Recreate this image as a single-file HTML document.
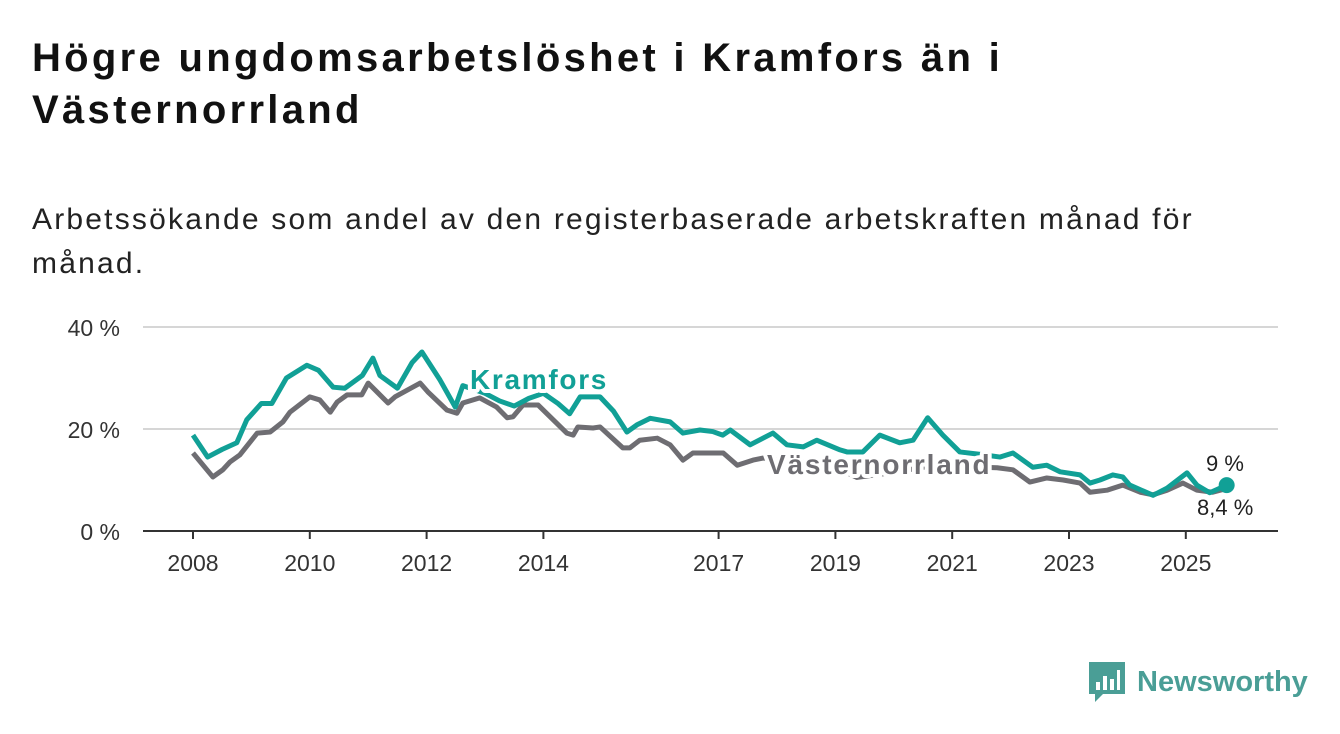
<!DOCTYPE html>
<html><head><meta charset="utf-8"><style>
body{margin:0;width:1340px;height:734px;background:#fff;font-family:"Liberation Sans",sans-serif;overflow:hidden;position:relative}
h1{position:absolute;left:32px;top:32px;margin:0;font-size:40px;line-height:52px;font-weight:bold;color:#111;width:1300px;letter-spacing:3.3px}
p{position:absolute;left:32px;top:198px;margin:0;font-size:30px;line-height:44px;color:#222;width:1300px;letter-spacing:2.2px}
</style></head><body>
<h1>Högre ungdomsarbetslöshet i Kramfors än i<br>Västernorrland</h1>
<p>Arbetssökande som andel av den registerbaserade arbetskraften månad för<br>månad.</p>
<svg id="c" width="1340" height="734" style="position:absolute;left:0;top:0"></svg>
<div style="position:absolute;left:1089px;top:662px;display:flex;align-items:center">
<svg width="36" height="40"><path d="M0 0H36V32H14L6 40V32H0Z" fill="#4a9e96"/><rect x="7" y="20" width="4" height="8" fill="#fff"/><rect x="14" y="14" width="4" height="14" fill="#fff"/><rect x="21" y="17" width="4" height="11" fill="#fff"/><rect x="28" y="8" width="3" height="20" fill="#fff"/></svg>
<span style="font-size:29px;font-weight:bold;color:#4a9e96;margin-left:12px">Newsworthy</span></div>
<script>
const kDates=[2008.0,2008.25,2008.5,2008.75,2008.92,2009.17,2009.35,2009.6,2009.95,2010.15,2010.4,2010.6,2010.9,2011.08,2011.2,2011.5,2011.75,2011.92,2012.23,2012.49,2012.62,2013.0,2013.25,2013.5,2013.75,2014.0,2014.25,2014.45,2014.63,2014.97,2015.2,2015.43,2015.6,2015.83,2016.17,2016.39,2016.68,2016.9,2017.07,2017.2,2017.54,2017.93,2018.17,2018.45,2018.68,2019.08,2019.2,2019.47,2019.76,2020.1,2020.33,2020.58,2020.84,2021.13,2021.5,2021.82,2022.04,2022.38,2022.62,2022.85,2023.19,2023.36,2023.53,2023.75,2023.92,2024.04,2024.44,2024.68,2025.02,2025.19,2025.41,2025.7];
const kVals=[18.8,14.5,16,17.3,21.8,25,25,30,32.5,31.5,28.2,28,30.5,33.9,30.5,28,33,35.1,29.6,24.3,28.5,27,25.5,24.5,26,27,25,23,26.3,26.3,23.5,19.4,20.8,22.1,21.4,19.2,19.8,19.5,18.8,19.8,16.9,19.2,16.9,16.5,17.8,15.9,15.5,15.5,18.8,17.3,17.8,22.2,18.8,15.5,15,14.5,15.3,12.5,12.9,11.6,11,9.4,10,11,10.6,9,7,8.4,11.4,9,7.5,9];
const vDates=[2008.0,2008.34,2008.51,2008.63,2008.8,2009.1,2009.32,2009.54,2009.66,2010.0,2010.17,2010.35,2010.47,2010.64,2010.89,2011.0,2011.34,2011.46,2011.89,2012.02,2012.35,2012.52,2012.62,2012.91,2013.2,2013.38,2013.48,2013.65,2013.91,2014.4,2014.51,2014.59,2014.85,2014.97,2015.36,2015.48,2015.65,2015.95,2016.17,2016.39,2016.56,2017.08,2017.32,2017.59,2017.76,2018.0,2018.5,2019.0,2019.37,2020.0,2020.5,2021.0,2021.5,2021.77,2022.04,2022.33,2022.62,2022.9,2023.19,2023.36,2023.65,2023.92,2024.22,2024.44,2024.68,2024.95,2025.19,2025.46,2025.72];
const vVals=[15.3,10.6,12,13.5,14.9,19.2,19.4,21.4,23.3,26.3,25.7,23.3,25.3,26.7,26.7,29,25.1,26.3,29,27.3,23.7,23.1,25.1,26.1,24.3,22.2,22.4,24.7,24.7,19.2,18.8,20.4,20.2,20.4,16.3,16.3,17.8,18.2,16.9,13.9,15.3,15.3,12.9,13.9,14.3,14,13.5,12.5,10.5,11.5,12.5,13,12.5,12.4,12,9.6,10.4,10,9.4,7.6,8,9,7.6,7.1,8,9.4,8,7.6,8.4];
const xTicks=[2008,2010,2012,2014,2017,2019,2021,2023,2025];
const yTicks=[0,20,40];
const kLast="9 %", vLast="8,4 %";
const NS="http://www.w3.org/2000/svg",svg=document.getElementById('c');
const X=d=>193+(d-2008)*58.4, Y=v=>531-v*5.1;
function mk(t,a){const e=document.createElementNS(NS,t);for(const k in a)e.setAttribute(k,a[k]);svg.appendChild(e);return e;}
yTicks.forEach(v=>{
 if(v>0){const g=mk('line',{x1:143,x2:1278,y1:Y(v),y2:Y(v),stroke:'#d6d6d6','stroke-width':2});
 
 }
 const t=mk('text',{x:120,y:Y(v)+9,'text-anchor':'end','font-size':23,fill:'#333'});t.textContent=v+' %';
 
 
});
const ax=mk('line',{x1:143,x2:1278,y1:531,y2:531,stroke:'#333','stroke-width':2});


xTicks.forEach(d=>{
 const l=mk('line',{x1:X(d),x2:X(d),y1:531,y2:539,stroke:'#333','stroke-width':2});
 
 
 const t=mk('text',{x:X(d),y:571,'text-anchor':'middle','font-size':23,fill:'#333'});t.textContent=d;
 
 
});
function line(ds,vs,c,n){const p=mk('polyline',{points:ds.map((d,i)=>X(d)+','+Y(vs[i])).join(' '),fill:'none',stroke:c,'stroke-width':5,'stroke-linejoin':'round'});
 
 }
line(vDates,vVals,'#6e6d72','vasternorrland-line');
line(kDates,kVals,'#11a096','kramfors-line');
const dot=mk('circle',{cx:X(kDates[kDates.length-1]),cy:Y(kVals[kVals.length-1]),r:8,fill:'#11a096'});


function lab(x,y,s,c,n,sz,w,ls){const t=mk('text',{x:x,y:y,'font-size':sz,'font-weight':w,fill:c,stroke:'#fff','stroke-width':w=='bold'?8:5,'paint-order':'stroke','stroke-linejoin':'round','letter-spacing':ls});t.textContent=s;
 
 }
lab(470,389,'Kramfors','#11a096','kramfors-label',28,'bold',1.7);
lab(767,474,'Västernorrland','#6e6d72','vasternorrland-label',28,'bold',1.8);
lab(1206,471,kLast,'#222','kramfors-value-label',22,'normal',0);
lab(1197,515,vLast,'#222','vasternorrland-value-label',22,'normal',0);
</script>
</body></html>
